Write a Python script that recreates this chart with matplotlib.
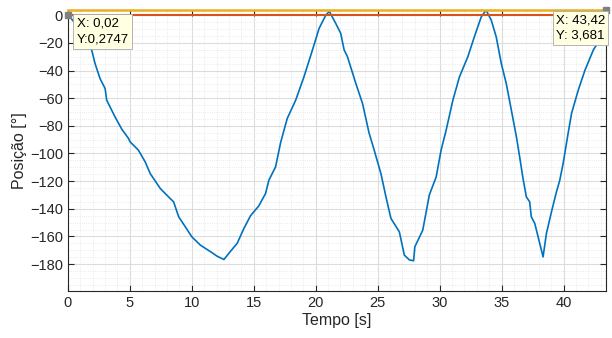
import numpy as np
import matplotlib.pyplot as plt
from matplotlib.ticker import MultipleLocator

plt.rcParams['font.family'] = ['Liberation Sans', 'DejaVu Sans']

# leitura aproximada da curva (tempo [s], posição [°])
tempo = [0.02, 0.5, 1.0, 1.5, 1.92, 2.19, 2.59, 3.0, 3.13, 3.8, 4.35, 4.88, 5.02, 5.69,
         6.23, 6.64, 7.45, 8.12, 8.53, 8.94, 9.47, 10.0, 10.69, 11.5, 12.04, 12.59,
         13.1, 13.66, 14.2, 14.74, 15.4, 15.95, 16.22, 16.76, 17.17, 17.7, 18.38,
         19.05, 19.73, 20.27, 20.81, 21.1, 21.62, 22.02, 22.29, 22.56, 23.24, 23.78,
         24.3, 24.72, 25.26, 25.67, 26.07, 26.75, 27.15, 27.56, 27.9, 28.0, 28.64,
         29.17, 29.72, 30.12, 30.53, 31.07, 31.6, 32.28, 32.8, 33.36, 33.75, 34.17,
         34.57, 34.98, 35.38, 35.79, 36.2, 36.46, 36.73, 37.0, 37.27, 37.4, 37.68,
         37.95, 38.35, 38.62, 39.03, 39.43, 39.7, 39.97, 40.38, 40.65, 41.19, 41.73,
         42.4, 42.9, 43.42]
posicao = [0.27, -5, -11, -18, -25.3, -35, -45.8, -53, -61.5, -73.5, -82.5, -89, -91.6, -97.6,
           -106, -114.5, -125.3, -131.4, -135, -145.8, -153, -160.3, -166.3, -171, -174.3, -176.7,
           -171, -165, -154.3, -145, -138, -129, -119.3, -109.7, -92, -74.7, -61.5,
           -44.6, -25.3, -9.6, 0, 2.8, -6, -13.2, -25, -30, -49.4, -63.9,
           -85, -97.6, -114.5, -131.4, -147, -156.7, -173.5, -177, -177.6, -167.5, -155.5,
           -130, -117, -97.6, -83, -61.5, -44.6, -30, -15.7, -1.2, 3.68, -3.6,
           -15.7, -35, -49.4, -68.7, -88, -102.5, -118, -131.4, -135, -145.8, -150.6,
           -160.3, -174.8, -157.9, -142.2, -127.8, -119.3, -107.2, -85, -71, -54.2, -39.8,
           -25.3, -18, -12]

# linhas de referência e datatips
ref_inicial = 0.2747
ref_maximo = 3.681
tip_x = [0.02, 43.42]
tip_y = [0.2747, 3.681]
tip_texto = ['X: 0,02\nY:0,2747', 'X: 43,42\nY: 3,681']

fig = plt.figure(figsize=(6.12, 3.38), dpi=100)
ax = fig.add_axes([0.111, 0.139, 0.879, 0.831])

ax.plot(tempo, posicao, color='#0072BD', lw=1.2)
ax.plot([0.0, 43.42], [ref_inicial, ref_inicial], color='#D95319', lw=1.5, zorder=3)
ax.plot([0.0, 43.42], [ref_maximo, ref_maximo], color='#EDB120', lw=1.8,
        clip_on=False, zorder=3)

ax.set_xlim(0, 43.42)
ax.set_ylim(-199.5, 3.681)
ax.set_xticks(np.arange(0, 45, 5))
ax.set_yticks(np.arange(-180, 1, 20))
ax.xaxis.set_minor_locator(MultipleLocator(1))
ax.yaxis.set_minor_locator(MultipleLocator(5))

ax.grid(which='major', color='#dcdcdc', lw=0.8)
ax.grid(which='minor', color='#e3e3e3', lw=0.6, ls=':')
ax.set_axisbelow(True)
ax.tick_params(which='major', direction='in', top=True, right=True, length=4,
               labelsize=10.5, colors='#262626')
ax.tick_params(which='minor', length=0)
for s in ax.spines.values():
    s.set_color('#262626')
    s.set_linewidth(0.8)

ax.set_xlabel('Tempo [s]', fontsize=11.5, color='#262626', labelpad=2)
ax.set_ylabel('Posição [°]', fontsize=11.5, color='#262626', labelpad=2)

offsets = [(6, -2), (-36, -3)]
for x, y, txt, off in zip(tip_x, tip_y, tip_texto, offsets):
    ax.plot(x, y, marker='s', ms=4, color='#808080', clip_on=False, zorder=5)
    ax.annotate(txt, xy=(x, y), xytext=off, textcoords='offset points',
                ha='left', va='top', fontsize=9.5, linespacing=1.4, zorder=6,
                bbox=dict(boxstyle='square,pad=0.25', fc='#FFFFE1', ec='#a8a8a8', lw=0.6))

fig.savefig('out.png', dpi=100)
